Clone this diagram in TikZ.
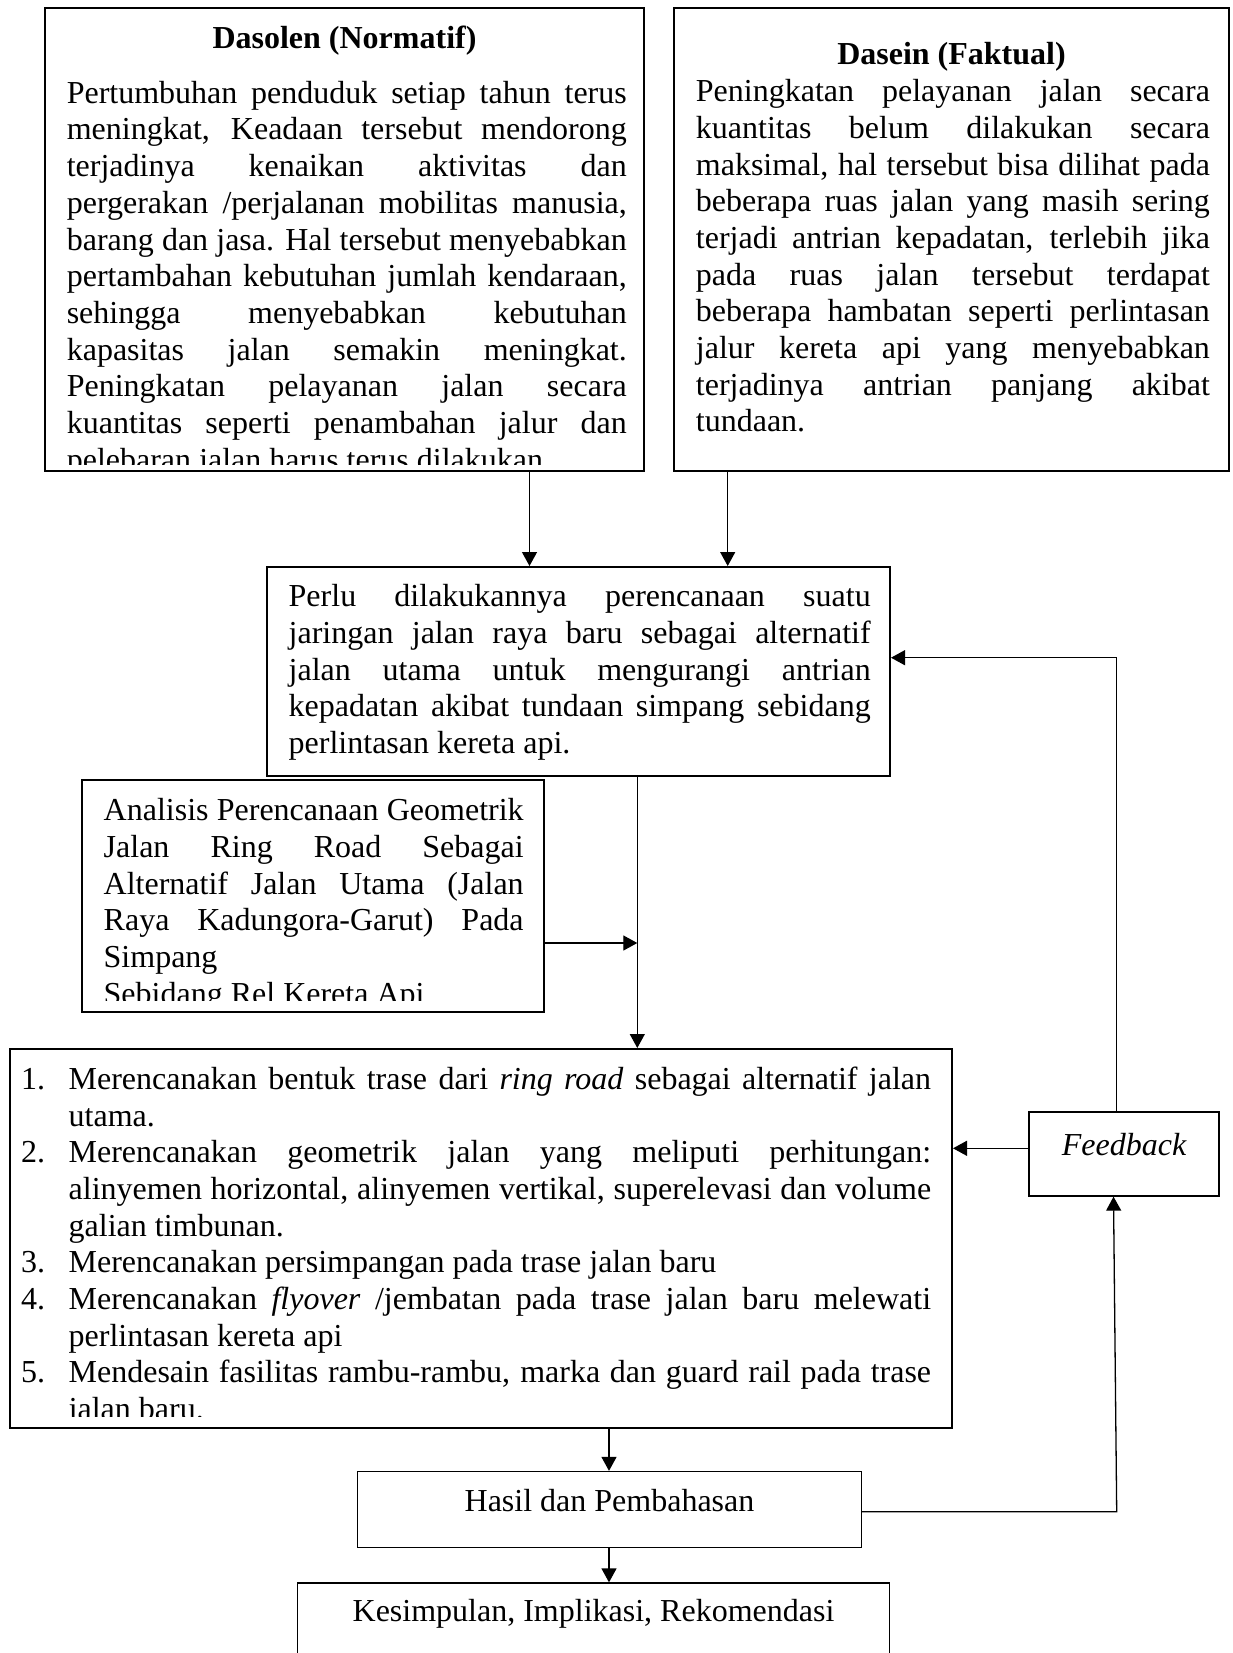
\documentclass[tikz,border=0pt]{standalone}
\usepackage{fontspec}
\setmainfont{Liberation Serif}
\usetikzlibrary{arrows.meta,fit}
\tolerance=10000
\hbadness=10000
\hyphenpenalty=10000
\exhyphenpenalty=10000
% numbered item with hanging indent
\newcommand\numitem[1]{\hangindent=23.8pt\hangafter=1\noindent\makebox[23.8pt][l]{#1}}
\begin{document}
\begin{tikzpicture}[x=0.5pt,y=-0.5pt,
  heavy/.style={draw=black,line width=1pt,inner sep=0pt,fit={#1}},
  light/.style={draw=black,line width=0.65pt,inner sep=0pt,fit={#1}},
  bodytext/.style={inner sep=0pt,anchor=base west,text width=#1,align=justify,
    font={\fontsize{16}{18.35}\selectfont}},
  plaintext/.style={inner sep=0pt,anchor=base,font={\fontsize{16}{18.35}\selectfont}},
  boldtext/.style={plaintext,font={\fontsize{16}{18.35}\selectfont\bfseries}},
  conn/.style={line width=0.65pt,-{Triangle[length=7pt,width=7.5pt]}}]

\useasboundingbox (0,0) rectangle (1232,1653);
\fill[white] (0,0) rectangle (1232,1653);
\clip (0,0) rectangle (1232,1653);

% boxes
\node[heavy={(45,8) (644,471)}] (dasolen) {};
\node[heavy={(674,8) (1229,471)}] (dasein) {};
\node[heavy={(267,567) (890,776)}] (perlu) {};
\node[heavy={(82,780) (544,1012)}] (analisis) {};
\node[heavy={(9.5,1049) (952,1427.5)}] (rencana) {};
\node[light={(1029,1112) (1219,1196)}] (feedback) {};
\node[light={(357.5,1471.5) (861.5,1547.5)}] (hasil) {};
\node[light={(297.5,1583) (889.5,1690)}] (kesimpulan) {};

% Dasolen
\node[boldtext] (dasolenhead) at (344.5,48.3) {Dasolen (Normatif)};
\begin{scope}
\clip (45,8) rectangle (644,464);
\node[bodytext=280pt] (dasolentext) at (66.4,103.3) {Pertumbuhan penduduk setiap tahun terus\linebreak
meningkat, Keadaan tersebut mendorong\linebreak
terjadinya kenaikan aktivitas dan\linebreak
pergerakan /perjalanan mobilitas manusia,\linebreak
barang dan jasa. Hal tersebut menyebabkan\linebreak
pertambahan kebutuhan jumlah kendaraan,\linebreak
sehingga menyebabkan kebutuhan\linebreak
kapasitas jalan semakin meningkat.\linebreak
Peningkatan pelayanan jalan secara\linebreak
kuantitas seperti penambahan jalur dan\linebreak
pelebaran jalan harus terus dilakukan.};
\end{scope}

% Dasein
\node[boldtext] (daseinhead) at (951.5,65) {Dasein (Faktual)};
\node[bodytext=257pt] (daseintext) at (695.5,101.7) {Peningkatan pelayanan jalan secara\linebreak
kuantitas belum dilakukan secara\linebreak
maksimal, hal tersebut bisa dilihat pada\linebreak
beberapa ruas jalan yang masih sering\linebreak
terjadi antrian kepadatan, terlebih jika\linebreak
pada ruas jalan tersebut terdapat\linebreak
beberapa hambatan seperti perlintasan\linebreak
jalur kereta api yang menyebabkan\linebreak
terjadinya antrian panjang akibat\linebreak
tundaan.};

% problem statement
\node[bodytext=291pt] (perlutext) at (288.3,606.7) {Perlu dilakukannya perencanaan suatu\linebreak
jaringan jalan raya baru sebagai alternatif\linebreak
jalan utama untuk mengurangi antrian\linebreak
kepadatan akibat tundaan simpang sebidang\linebreak
perlintasan kereta api.};

% title of the study
\begin{scope}
\clip (82,780) rectangle (544,1000.7);
\node[bodytext=210pt] (analisistext) at (103.3,820.7) {Analisis Perencanaan Geometrik\linebreak
Jalan Ring Road Sebagai\linebreak
Alternatif Jalan Utama (Jalan\linebreak
Raya Kadungora-Garut) Pada\linebreak
Simpang\par
Sebidang Rel Kereta Api};
\end{scope}

% planning steps
\begin{scope}
\clip (9.5,1049) rectangle (952,1416);
\node[bodytext=455pt] (rencanatext) at (20.7,1089.3) {%
\numitem{1.}Merencanakan bentuk trase dari \textit{ring road} sebagai alternatif jalan\linebreak
utama.\par
\numitem{2.}Merencanakan geometrik jalan yang meliputi perhitungan:\linebreak
alinyemen horizontal, alinyemen vertikal, superelevasi dan volume\linebreak
galian timbunan.\par
\numitem{3.}Merencanakan persimpangan pada trase jalan baru\par
\numitem{4.}Merencanakan \textit{flyover} /jembatan pada trase jalan baru melewati\linebreak
perlintasan kereta api\par
\numitem{5.}Mendesain fasilitas rambu-rambu, marka dan guard rail pada trase\linebreak
jalan baru.\par};
\end{scope}

% small boxes
\node[plaintext,font={\fontsize{16}{18.35}\selectfont\itshape}] (feedbacktext) at (1124,1155) {Feedback};
\node[plaintext] (hasiltext) at (609.5,1511.7) {Hasil dan Pembahasan};
\node[plaintext] (kesimpulantext) at (593.5,1621.7) {Kesimpulan, Implikasi, Rekomendasi};

% connector columns and rows
\coordinate (xa) at (529.5,0);
\coordinate (xb) at (727.7,0);
\coordinate (xc) at (637.3,0);
\coordinate (xd) at (609,0);
\coordinate (xe) at (1116.7,0);
\coordinate (xf) at (1113.5,0);
\coordinate (ya) at (0,657.7);
\coordinate (yb) at (0,943);
\coordinate (yc) at (0,1148.3);
\coordinate (yd) at (0,1511.7);

\draw[conn] (dasolen.south -| xa) -- (perlu.north -| xa);
\draw[conn] (dasein.south -| xb) -- (perlu.north -| xb);
\draw[conn] (perlu.south -| xc) -- (rencana.north -| xc);
\draw[conn] (analisis.east |- yb) -- (yb -| xc);
\draw[conn] (feedback.west |- yc) -- (rencana.east |- yc);
\draw[conn] (feedback.north -| xe) -- (xe |- ya) -- (perlu.east |- ya);
\draw[conn] (rencana.south -| xd) -- (hasil.north -| xd);
\draw[conn] (hasil.east |- yd) -- (xe |- yd) -- (feedback.south -| xf);
\draw[conn] (hasil.south -| xd) -- (kesimpulan.north -| xd);
\end{tikzpicture}
\end{document}
